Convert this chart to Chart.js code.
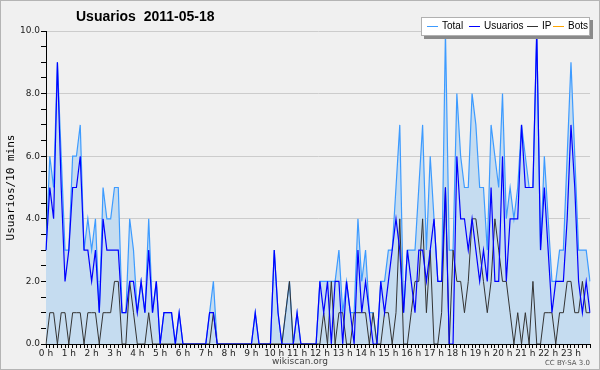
<!DOCTYPE html>
<html>
<head>
<meta charset="utf-8">
<script src="https://cdn.jsdelivr.net/npm/chart.js@4.4.1/dist/chart.umd.min.js"></script>
<style>
  body { margin: 0; background: #f0f0f0; }
  canvas { display: block; }
</style>
</head>
<body>
<canvas id="chart" width="600" height="370"></canvas>
<script>
// 10-minute slots over the day, one label per hour on the axis
const hourLabels = ['0 h', '1 h', '2 h', '3 h', '4 h', '5 h', '6 h', '7 h', '8 h', '9 h', '10 h', '11 h',
  '12 h', '13 h', '14 h', '15 h', '16 h', '17 h', '18 h', '19 h', '20 h', '21 h', '22 h', '23 h'];
const yTicks = [0, 2, 4, 6, 8, 10];

const total = [
  3, 6, 5, 9, 6, 3, 3, 6, 6, 7, 3, 4, 3, 4, 1, 5, 4, 4, 5, 5, 1, 1, 4, 3,
  1, 2, 1, 4, 1, 2, 0, 1, 1, 1, 0, 1, 0, 0, 0, 0, 0, 0, 0, 1, 2, 0, 0, 0,
  0, 0, 0, 0, 0, 0, 0, 1, 0, 0, 0, 0, 3, 1, 0, 1, 2, 0, 1, 0, 0, 0, 0, 0,
  2, 2, 2, 2, 2, 3, 1, 2, 1, 1, 4, 2, 3, 1, 1, 0, 2, 2, 3, 3, 5, 7, 1, 3,
  3, 3, 5, 7, 3, 6, 4, 2, 2, 10, 3, 3, 8, 6, 5, 5, 8, 7, 5, 5, 3, 7, 6, 5,
  8, 4, 5, 4, 5, 7, 6, 5, 5, 10, 3, 6, 4, 2, 2, 3, 3, 6, 9, 6, 3, 3, 3, 2
];
const usuarios = [
  3, 5, 4, 9, 5, 2, 3, 5, 5, 6, 3, 3, 2, 3, 1, 4, 3, 3, 3, 3, 1, 1, 2, 2,
  1, 2, 1, 3, 1, 2, 0, 1, 1, 1, 0, 1, 0, 0, 0, 0, 0, 0, 0, 1, 1, 0, 0, 0,
  0, 0, 0, 0, 0, 0, 0, 1, 0, 0, 0, 0, 3, 1, 0, 0, 0, 0, 1, 0, 0, 0, 0, 0,
  2, 1, 2, 0, 2, 2, 0, 2, 1, 0, 3, 1, 2, 1, 0, 0, 2, 1, 2, 3, 4, 3, 1, 3,
  2, 1, 3, 3, 2, 3, 4, 2, 2, 5, 0, 0, 6, 4, 4, 3, 4, 3, 2, 3, 2, 5, 2, 2,
  6, 2, 4, 4, 4, 7, 5, 5, 5, 10, 3, 5, 3, 1, 2, 2, 2, 4, 7, 5, 2, 1, 2, 1
];
const ip = [
  0, 1, 1, 0, 1, 1, 0, 1, 1, 1, 0, 1, 1, 1, 0, 1, 1, 1, 2, 2, 0, 0, 2, 1,
  0, 0, 0, 1, 0, 0, 0, 0, 0, 0, 0, 0, 0, 0, 0, 0, 0, 0, 0, 0, 1, 0, 0, 0,
  0, 0, 0, 0, 0, 0, 0, 0, 0, 0, 0, 0, 0, 0, 0, 1, 2, 0, 0, 0, 0, 0, 0, 0,
  0, 1, 0, 2, 0, 1, 1, 0, 0, 1, 1, 1, 1, 0, 1, 0, 0, 1, 1, 0, 1, 4, 0, 0,
  1, 2, 2, 4, 1, 3, 0, 0, 1, 5, 0, 3, 2, 2, 1, 2, 4, 4, 3, 2, 1, 2, 4, 3,
  2, 2, 1, 0, 1, 0, 1, 0, 2, 0, 0, 1, 1, 1, 0, 1, 1, 2, 2, 1, 1, 2, 1, 1
];
const bots = new Array(144).fill(0);

const slots = [];
hourLabels.forEach(h => { for (let m = 0; m < 60; m += 10) slots.push(h + ' ' + m); });

const legendItems = [
  { label: 'Total', color: '#3d9bff', x: 427 },
  { label: 'Usuarios', color: '#0000ff', x: 469 },
  { label: 'IP', color: '#333333', x: 527 },
  { label: 'Bots', color: '#ffa500', x: 553 }
];

// background, title, legend box and footer texts
const decor = {
  id: 'decor',
  beforeDraw(chart) {
    const c = chart.ctx;
    c.save();
    c.fillStyle = '#f0f0f0';
    c.fillRect(0, 0, chart.width, chart.height);
    c.restore();
  },
  afterDraw(chart) {
    const c = chart.ctx;
    c.save();
    c.fillStyle = '#000';
    c.font = 'bold 14px "Liberation Sans"';
    c.textBaseline = 'middle';
    c.fillText('Usuarios  2011-05-18', 76, 17);

    // legend
    c.fillStyle = '#8a8a8a';
    c.fillRect(424, 20, 169, 19);
    c.fillStyle = '#fff';
    c.fillRect(421, 17, 169, 19);
    c.strokeStyle = '#b0b0b0';
    c.lineWidth = 1;
    c.strokeRect(421.5, 17.5, 168, 18);
    c.font = '10px "Liberation Sans"';
    legendItems.forEach(it => {
      c.strokeStyle = it.color;
      c.beginPath();
      c.moveTo(it.x, 26.5);
      c.lineTo(it.x + 11, 26.5);
      c.stroke();
      c.fillStyle = '#000';
      c.fillText(it.label, it.x + 15, 26.5);
    });

    c.font = '9px "DejaVu Sans"';
    c.fillStyle = '#444';
    c.textAlign = 'center';
    c.fillText('wikiscan.org', 300, 362);
    c.font = '7px "DejaVu Sans"';
    c.textAlign = 'right';
    c.fillStyle = '#555';
    c.fillText('CC BY-SA 3.0', 590, 363);

    c.strokeStyle = '#b4b4b4';
    c.strokeRect(0.5, 0.5, chart.width - 1, chart.height - 1);
    c.restore();
  }
};

new Chart(document.getElementById('chart'), {
  type: 'line',
  data: {
    labels: slots,
    datasets: [
      { label: 'Usuarios', data: usuarios, borderColor: '#0000ff', borderWidth: 1.2, order: 1 },
      { label: 'IP', data: ip, borderColor: '#333333', borderWidth: 1, order: 2 },
      { label: 'Total', data: total, borderColor: '#3d9bff', borderWidth: 1.2,
        backgroundColor: '#c5dcf0', fill: 'origin', order: 3 },
      { label: 'Bots', data: bots, borderColor: '#ffa500', borderWidth: 1, order: 4 }
    ]
  },
  options: {
    responsive: false,
    animation: false,
    layout: { padding: { top: 31, right: 10, left: 0, bottom: 0 } },
    elements: { point: { radius: 0 }, line: { tension: 0 } },
    plugins: { legend: { display: false }, tooltip: { enabled: false } },
    scales: {
      x: {
        z: 1,
        afterFit: s => { s.height = 26; },
        border: { color: '#000' },
        grid: { drawOnChartArea: false, tickLength: 4, tickColor: '#000' },
        ticks: {
          autoSkip: false, maxRotation: 0, padding: 0,
          font: { family: 'DejaVu Sans', size: 9 }, color: '#222',
          callback: (v, i) => (i % 6 === 0 ? hourLabels[i / 6] : '')
        }
      },
      y: {
        min: 0, max: 10,
        afterFit: s => { s.width = 46; },
        border: { color: '#000' },
        grid: {
          tickLength: 5, tickColor: '#000',
          color: ctx => (ctx.tick && ctx.tick.value > 0 && yTicks.includes(ctx.tick.value) ? '#cccccc' : 'rgba(0,0,0,0)')
        },
        ticks: {
          stepSize: 0.5, autoSkip: false, maxTicksLimit: 50, padding: 1,
          font: { family: 'DejaVu Sans', size: 9 }, color: '#222',
          callback: v => (yTicks.includes(v) ? v.toFixed(1) : '')
        },
        title: {
          display: true, text: 'Usuarios/10 mins', padding: { top: 5, bottom: 0 },
          font: { family: 'DejaVu Sans Mono', size: 11 }, color: '#000'
        }
      }
    }
  },
  plugins: [decor]
});
</script>
</body>
</html>
